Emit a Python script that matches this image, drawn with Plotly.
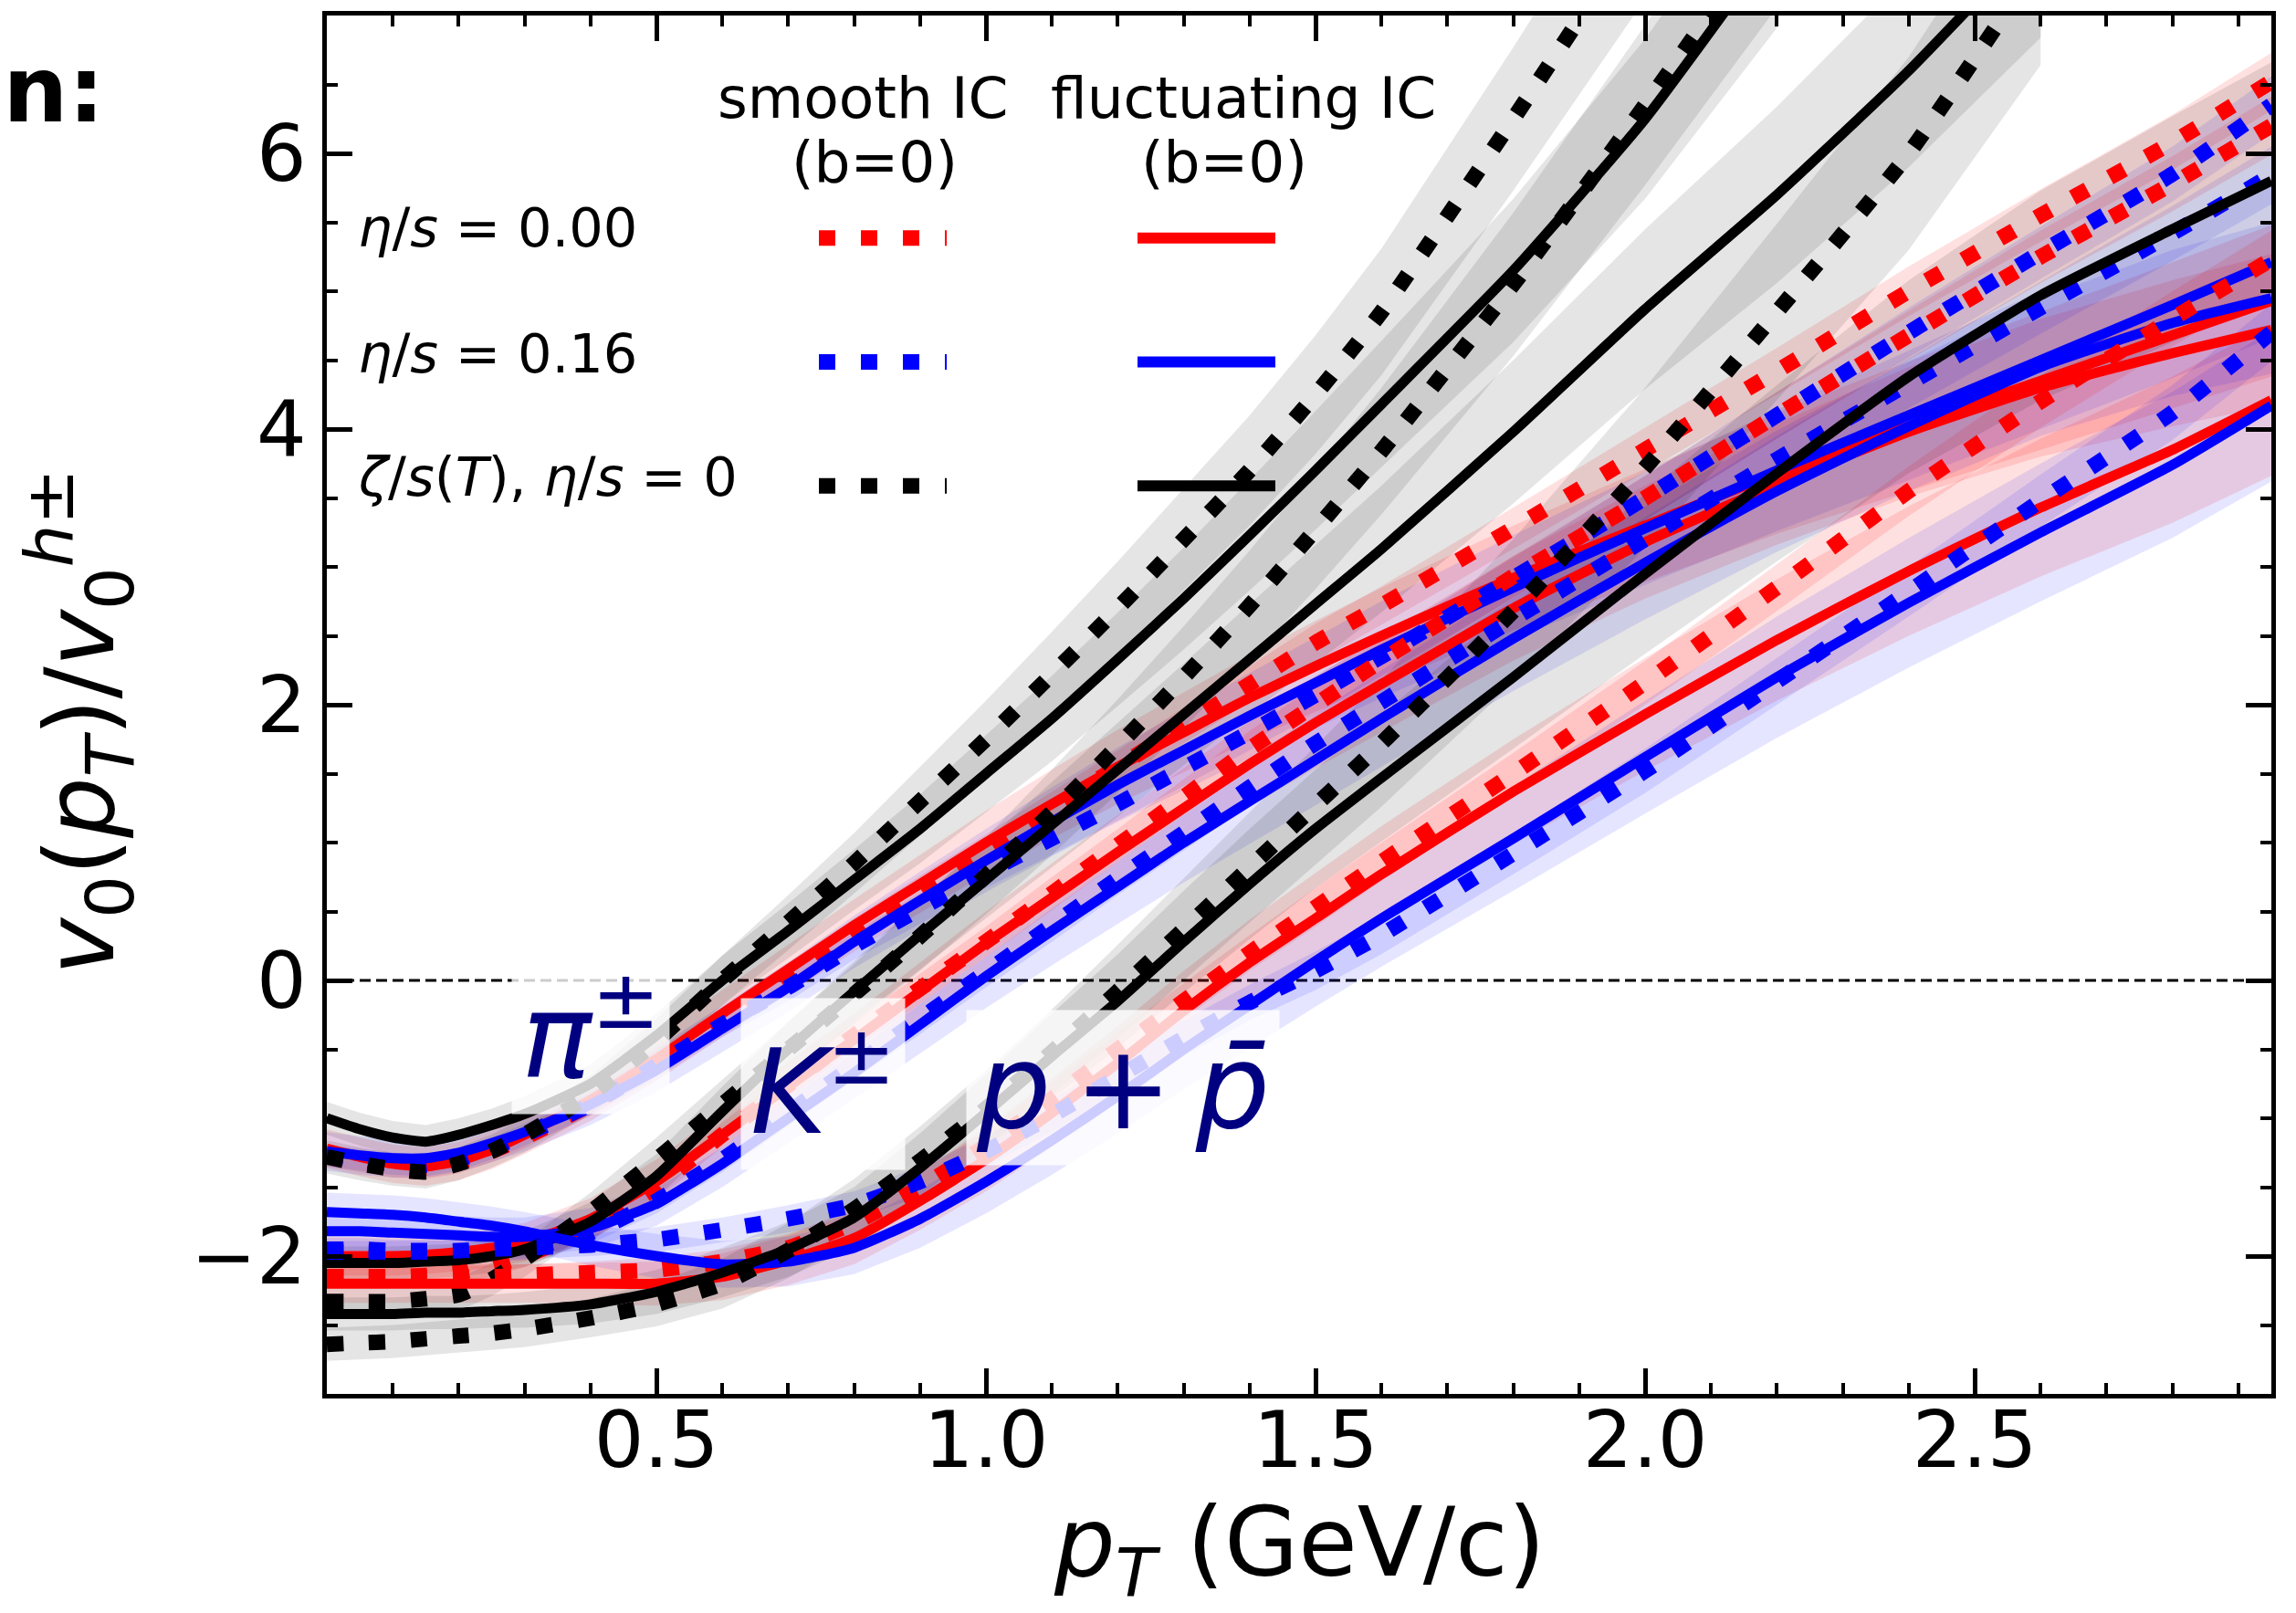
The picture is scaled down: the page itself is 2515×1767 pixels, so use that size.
import plotly.graph_objects as go

# ---------------- data ----------------
PT = [0.0, 0.05, 0.1, 0.15, 0.2, 0.25, 0.3, 0.4, 0.5, 0.6, 0.7, 0.8, 0.9, 1.0,
      1.1, 1.2, 1.3, 1.4, 1.5, 1.6, 1.8, 2.0, 2.2, 2.4, 2.6, 2.8, 2.95]

# pions
PI_RED_SMOOTH = [-1.27, -1.31, -1.35, -1.36, -1.32, -1.24, -1.14, -0.90, -0.60, -0.28, 0.03, 0.35, 0.65, 0.95,
                 1.25, 1.55, 1.85, 2.15, 2.45, 2.72, 3.28, 3.85, 4.42, 5.00, 5.55, 6.08, 6.52]
PI_RED_FLUCT = [-1.22, -1.28, -1.33, -1.35, -1.31, -1.23, -1.12, -0.87, -0.57, -0.24, 0.08, 0.40, 0.70, 1.00,
                1.28, 1.55, 1.80, 2.05, 2.28, 2.50, 2.92, 3.30, 3.68, 4.02, 4.35, 4.68, 4.93]
PI_BLUE_SMOOTH = [-1.27, -1.30, -1.33, -1.34, -1.30, -1.22, -1.12, -0.90, -0.62, -0.32, -0.05, 0.25, 0.52, 0.78,
                  1.03, 1.28, 1.54, 1.80, 2.07, 2.35, 2.92, 3.50, 4.10, 4.70, 5.28, 5.85, 6.35]
PI_BLUE_FLUCT = [-1.24, -1.27, -1.29, -1.29, -1.25, -1.18, -1.10, -0.90, -0.65, -0.35, -0.05, 0.28, 0.58, 0.87,
                 1.15, 1.42, 1.67, 1.92, 2.16, 2.40, 2.85, 3.28, 3.70, 4.10, 4.50, 4.90, 5.21]
PI_BULK_SMOOTH = [-1.28, -1.33, -1.37, -1.39, -1.33, -1.24, -1.12, -0.83, -0.44, 0.00, 0.42, 0.85, 1.30, 1.75,
                  2.22, 2.70, 3.20, 3.70, 4.25, 4.85, 6.25, 7.70, None, None, None, None, None]
PI_BULK_FLUCT = [-1.00, -1.08, -1.14, -1.17, -1.12, -1.05, -0.97, -0.75, -0.40, 0.00, 0.36, 0.73, 1.10, 1.50,
                 1.90, 2.33, 2.77, 3.23, 3.70, 4.18, 5.15, 6.25, 7.55, None, None, None, None]

# kaons
K_RED_SMOOTH = [-2.15, -2.15, -2.15, -2.14, -2.12, -2.07, -2.00, -1.80, -1.50, -1.12, -0.76, -0.40, -0.06, 0.28,
                0.63, 0.98, 1.33, 1.68, 2.00, 2.32, 2.93, 3.50, 4.10, 4.68, 5.25, 5.78, 6.20]
K_RED_FLUCT = [-2.00, -2.00, -2.00, -1.99, -1.97, -1.94, -1.90, -1.73, -1.46, -1.12, -0.77, -0.43, -0.08, 0.27,
               0.60, 0.93, 1.25, 1.57, 1.87, 2.15, 2.70, 3.18, 3.60, 3.98, 4.30, 4.55, 4.72]
K_BLUE_SMOOTH = [-1.95, -1.95, -1.96, -1.96, -1.97, -1.96, -1.95, -1.83, -1.60, -1.30, -0.96, -0.62, -0.28, 0.06,
                 0.40, 0.74, 1.07, 1.40, 1.72, 2.02, 2.62, 3.20, 3.78, 4.33, 4.88, 5.42, 5.84]
K_BLUE_FLUCT = [-1.82, -1.82, -1.83, -1.84, -1.85, -1.86, -1.86, -1.80, -1.62, -1.33, -1.00, -0.67, -0.32, 0.03,
                0.36, 0.68, 1.00, 1.30, 1.60, 1.90, 2.48, 3.03, 3.55, 4.02, 4.45, 4.77, 4.95]
K_BULK_SMOOTH = [-2.33, -2.33, -2.33, -2.31, -2.28, -2.17, -2.02, -1.68, -1.30, -0.90, -0.50, -0.10, 0.32, 0.76,
                 1.22, 1.70, 2.20, 2.72, 3.27, 3.84, 5.05, 6.35, 7.70, None, None, None, None]
K_BULK_FLUCT = [-2.05, -2.05, -2.05, -2.04, -2.03, -2.00, -1.95, -1.75, -1.42, -0.95, -0.50, -0.08, 0.33, 0.73,
                1.13, 1.53, 1.93, 2.33, 2.73, 3.13, 3.98, 4.87, 5.70, 6.60, 7.60, None, None]

# protons
P_RED_SMOOTH = [-2.15, -2.15, -2.15, -2.15, -2.15, -2.15, -2.14, -2.12, -2.10, -2.04, -1.94, -1.76, -1.50, -1.20,
                -0.86, -0.50, -0.15, 0.20, 0.53, 0.86, 1.50, 2.16, 2.85, 3.55, 4.20, 4.80, 5.23]
P_RED_FLUCT = [-2.20, -2.20, -2.20, -2.20, -2.20, -2.20, -2.20, -2.20, -2.20, -2.15, -2.03, -1.87, -1.60, -1.30,
               -0.96, -0.60, -0.22, 0.13, 0.45, 0.77, 1.37, 1.93, 2.47, 2.97, 3.43, 3.85, 4.21]
P_BLUE_SMOOTH = [-1.97, -1.97, -1.97, -1.97, -1.96, -1.95, -1.94, -1.92, -1.88, -1.81, -1.73, -1.63, -1.46, -1.24,
                 -0.98, -0.70, -0.42, -0.16, 0.07, 0.33, 0.92, 1.52, 2.17, 2.82, 3.48, 4.12, 4.70]
P_BLUE_FLUCT = [-1.68, -1.69, -1.70, -1.72, -1.75, -1.78, -1.82, -1.92, -2.00, -2.06, -2.04, -1.94, -1.73, -1.46,
                -1.16, -0.84, -0.50, -0.18, 0.14, 0.45, 1.03, 1.62, 2.20, 2.74, 3.25, 3.74, 4.17]
P_BULK_SMOOTH = [-2.64, -2.63, -2.62, -2.60, -2.58, -2.56, -2.53, -2.45, -2.35, -2.20, -1.96, -1.66, -1.31, -0.93,
                 -0.52, -0.08, 0.37, 0.82, 1.27, 1.72, 2.68, 3.72, 4.85, 6.00, 7.40, None, None]
P_BULK_FLUCT = [-2.42, -2.42, -2.42, -2.41, -2.41, -2.40, -2.39, -2.35, -2.26, -2.12, -1.95, -1.72, -1.36, -0.96,
                -0.55, -0.15, 0.28, 0.70, 1.10, 1.47, 2.20, 2.95, 3.68, 4.38, 4.97, 5.45, 5.80]

# half-widths of the shaded uncertainty bands
BAND_SMOOTH = [0.08, 0.08, 0.08, 0.08, 0.08, 0.08, 0.08, 0.08, 0.09, 0.09, 0.10, 0.10, 0.11, 0.11,
               0.12, 0.12, 0.13, 0.13, 0.14, 0.14, 0.15, 0.16, 0.17, 0.18, 0.19, 0.20, 0.21]
BAND_FLUCT = [0.14, 0.14, 0.14, 0.14, 0.14, 0.14, 0.14, 0.15, 0.16, 0.17, 0.18, 0.19, 0.21, 0.23,
              0.25, 0.27, 0.29, 0.31, 0.33, 0.35, 0.38, 0.41, 0.44, 0.47, 0.50, 0.53, 0.55]
BAND_BULK = [0.12, 0.12, 0.12, 0.12, 0.12, 0.12, 0.13, 0.14, 0.16, 0.18, 0.20, 0.22, 0.25, 0.28,
             0.31, 0.34, 0.37, 0.40, 0.43, 0.46, 0.52, 0.58, 0.64, 0.70, 0.76, 0.82, 0.86]

XTICKS = [0.5, 1.0, 1.5, 2.0, 2.5]
YTICKS = [-2, 0, 2, 4, 6]

ROW_LABELS = ["<i>η</i>/<i>s</i> = 0.00", "<i>η</i>/<i>s</i> = 0.16",
              "<i>ζ</i>/<i>s</i>(<i>T</i>), <i>η</i>/<i>s</i> = 0"]
SPECIES_LABELS = ["<i>π</i><sup>±</sup>", "<i>K</i><sup>±</sup>", "<i>p</i>\u2009+\u2009<i>p\u0304</i>"]
SPECIES_POS = [(0.40, -0.35), (0.753, -0.75), (1.208, -0.78)]

# ---------------- styling ----------------
RED, BLUE, BLACK = "#ff0000", "#0000ff", "#000000"
BAND_COL = {RED: "rgba(255,0,0,0.12)", BLUE: "rgba(0,0,255,0.10)", BLACK: "rgba(0,0,0,0.10)"}
DOT = "18px,28px"
W_DOT, W_SOLID = 17, 11
FONT = "DejaVu Sans"

curves = [
    (PI_RED_SMOOTH, RED, True, BAND_SMOOTH), (PI_RED_FLUCT, RED, False, BAND_FLUCT),
    (PI_BLUE_SMOOTH, BLUE, True, BAND_SMOOTH), (PI_BLUE_FLUCT, BLUE, False, BAND_FLUCT),
    (PI_BULK_SMOOTH, BLACK, True, BAND_BULK), (PI_BULK_FLUCT, BLACK, False, BAND_BULK),
    (K_RED_SMOOTH, RED, True, BAND_SMOOTH), (K_RED_FLUCT, RED, False, BAND_FLUCT),
    (K_BLUE_SMOOTH, BLUE, True, BAND_SMOOTH), (K_BLUE_FLUCT, BLUE, False, BAND_FLUCT),
    (K_BULK_SMOOTH, BLACK, True, BAND_BULK), (K_BULK_FLUCT, BLACK, False, BAND_BULK),
    (P_RED_SMOOTH, RED, True, BAND_SMOOTH), (P_RED_FLUCT, RED, False, BAND_FLUCT),
    (P_BLUE_SMOOTH, BLUE, True, BAND_SMOOTH), (P_BLUE_FLUCT, BLUE, False, BAND_FLUCT),
    (P_BULK_SMOOTH, BLACK, True, BAND_BULK), (P_BULK_FLUCT, BLACK, False, BAND_BULK),
]

fig = go.Figure()

# shaded bands first
for ys, col, smooth, err in curves:
    xs, lo, hi = [], [], []
    for x, v, e in zip(PT, ys, err):
        if v is None:
            continue
        xs.append(x)
        lo.append(v - e)
        hi.append(v + e)
    fig.add_trace(go.Scatter(x=xs + xs[::-1], y=hi + lo[::-1], fill="toself",
                             fillcolor=BAND_COL[col], line=dict(width=0),
                             mode="lines", hoverinfo="skip", showlegend=False))

# curves
for ys, col, smooth, err in curves:
    fig.add_trace(go.Scatter(
        x=PT, y=ys, mode="lines", showlegend=False,
        line=dict(color=col, width=W_DOT if smooth else W_SOLID,
                  dash=DOT if smooth else "solid", shape="spline", smoothing=0.5)))

# ---------------- layout ----------------
L, R, T, B = 358, 27, 15, 240
W, H = 2515, 1767
PW, PH = W - L - R, H - T - B


def px_x(px):
    return (px - L) / PW


def px_y(py):
    return (H - B - py) / PH


axis_common = dict(
    showline=True, linewidth=5, linecolor="black", mirror="allticks",
    ticks="inside", ticklen=28, tickwidth=5, tickcolor="black",
    showgrid=False, zeroline=False,
    tickfont=dict(family=FONT, size=86, color="black"),
)

fig.update_layout(
    width=W, height=H,
    margin=dict(l=L, r=R, t=T, b=B),
    paper_bgcolor="white", plot_bgcolor="white",
    xaxis=dict(range=[0, 2.95], tickvals=XTICKS, ticktext=[f"{v:.1f}" for v in XTICKS],
               ticklabelstandoff=-28,
               minor=dict(ticks="inside", ticklen=12, tickwidth=4, tickcolor="black",
                          dtick=0.1, tick0=0, showgrid=False),
               **axis_common),
    yaxis=dict(range=[-3, 7], tickvals=YTICKS,
               minor=dict(ticks="inside", ticklen=12, tickwidth=4, tickcolor="black",
                          dtick=0.5, tick0=0, showgrid=False),
               **axis_common),
)

shapes = [dict(type="line", xref="x domain", yref="y", x0=0, x1=1, y0=0, y1=0,
               line=dict(color="black", width=3, dash="12px,6px"), layer="below")]

# custom legend table
row_y = [259, 395, 531]
row_text_y = [248, 386, 521]
cols = [RED, BLUE, BLACK]
for ry, col in zip(row_y, cols):
    shapes.append(dict(type="line", xref="paper", yref="paper",
                       x0=px_x(897), x1=px_x(1037), y0=px_y(ry), y1=px_y(ry),
                       line=dict(color=col, width=W_DOT, dash=DOT), layer="above"))
    shapes.append(dict(type="line", xref="paper", yref="paper",
                       x0=px_x(1246), x1=px_x(1397), y0=px_y(ry), y1=px_y(ry),
                       line=dict(color=col, width=12), layer="above"))

annotations = []
leg_font = dict(family=FONT, size=59, color="black")
head_font = dict(family=FONT, size=63, color="black")
for txt, ty in zip(ROW_LABELS, row_text_y):
    annotations.append(dict(text=txt, xref="paper", yref="paper", x=px_x(390), y=px_y(ty),
                            xanchor="left", yanchor="middle", showarrow=False, font=leg_font))
for txt, cx, cy in [("smooth IC", 945, 106), ("(b=0)", 958, 176),
                    ("fluctuating IC", 1362, 106), ("(b=0)", 1341, 176)]:
    annotations.append(dict(text=txt, xref="paper", yref="paper", x=px_x(cx), y=px_y(cy),
                            xanchor="center", yanchor="middle", showarrow=False, font=head_font))

# species labels
for txt, (sx, sy) in zip(SPECIES_LABELS, SPECIES_POS):
    annotations.append(dict(text=txt, xref="x", yref="y", x=sx, y=sy,
                            xanchor="center", yanchor="middle", showarrow=False,
                            font=dict(family=FONT, size=128, color="#000080"),
                            bgcolor="rgba(255,255,255,0.8)", borderpad=10))

# axis titles
annotations.append(dict(text="<i>p</i><sub><i>T</i></sub> (GeV/c)", xref="paper", yref="paper",
                        x=0.5, y=px_y(1697), xanchor="center", yanchor="middle", showarrow=False,
                        font=dict(family=FONT, size=105, color="black")))
annotations.append(dict(text="<i>v</i><sub>0</sub>(<i>p</i><sub><i>T</i></sub>)/<i>v</i><sub>0</sub><sup><i>h</i>±</sup>",
                        xref="paper", yref="paper", x=px_x(88), y=px_y(790), textangle=-90,
                        xanchor="center", yanchor="middle", showarrow=False,
                        font=dict(family=FONT, size=105, color="black")))

# partially visible panel heading at the top-left corner
annotations.append(dict(text="<b>Design:</b>", xref="paper", yref="paper", x=px_x(116), y=px_y(97),
                        xanchor="right", yanchor="middle", showarrow=False,
                        font=dict(family=FONT, size=100, color="black")))

fig.update_layout(shapes=shapes, annotations=annotations)

fig.write_html("out.html")
